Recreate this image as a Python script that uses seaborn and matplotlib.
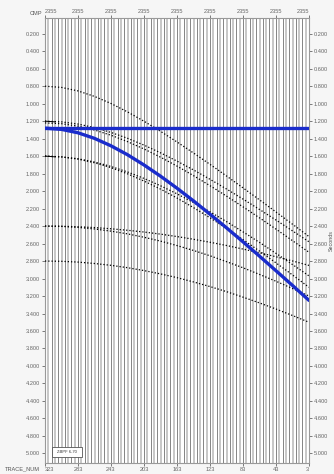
import numpy as np
import pandas as pd
import matplotlib
matplotlib.use("Agg")
import matplotlib.pyplot as plt
from matplotlib.patches import Rectangle
import seaborn as sns

# ---- data ----
trace_ticks = [323, 283, 243, 203, 163, 123, 83, 43, 3]
cmp_labels = ["2355"] * 9
time_ticks = [0.2, 0.4, 0.6, 0.8, 1.0, 1.2, 1.4, 1.6, 1.8, 2.0, 2.2, 2.4, 2.6, 2.8,
              3.0, 3.2, 3.4, 3.6, 3.8, 4.0, 4.2, 4.4, 4.6, 4.8, 5.0]
traces = list(range(323, 2, -4))

# sample trace numbers at which the event times were read
curve_trace = [323, 303, 283, 263, 243, 223, 203, 183, 163, 143, 123, 103, 83, 63, 43, 23, 3]

curve_a = [0.800, 0.814, 0.854, 0.917, 0.998, 1.094, 1.201, 1.316, 1.438,
           1.564, 1.694, 1.827, 1.963, 2.100, 2.239, 2.379, 2.520]
curve_b = [1.200, 1.208, 1.233, 1.274, 1.329, 1.396, 1.474, 1.562, 1.657,
           1.758, 1.865, 1.976, 2.091, 2.210, 2.331, 2.455, 2.580]
curve_c = [1.220, 1.229, 1.257, 1.301, 1.361, 1.434, 1.518, 1.612, 1.714,
           1.823, 1.938, 2.057, 2.180, 2.306, 2.435, 2.567, 2.700]
curve_d = [1.600, 1.608, 1.630, 1.667, 1.718, 1.781, 1.855, 1.939, 2.031,
           2.131, 2.237, 2.349, 2.466, 2.587, 2.712, 2.840, 2.970]
curve_e = [1.600, 1.609, 1.634, 1.676, 1.732, 1.802, 1.885, 1.977, 2.079,
           2.189, 2.305, 2.427, 2.555, 2.686, 2.821, 2.959, 3.100]
curve_f = [2.400, 2.402, 2.408, 2.417, 2.431, 2.448, 2.468, 2.492, 2.520,
           2.551, 2.585, 2.622, 2.663, 2.705, 2.751, 2.799, 2.850]
curve_g = [2.400, 2.404, 2.415, 2.433, 2.458, 2.489, 2.528, 2.572, 2.623,
           2.679, 2.740, 2.807, 2.877, 2.953, 3.031, 3.114, 3.200]
curve_h = [2.800, 2.803, 2.812, 2.828, 2.849, 2.876, 2.909, 2.947, 2.990,
           3.039, 3.092, 3.150, 3.213, 3.279, 3.349, 3.423, 3.500]

blue_flat = [1.28] * 17
blue_curve = [1.28, 1.294, 1.333, 1.397, 1.482, 1.584, 1.701, 1.829, 1.967,
              2.112, 2.264, 2.420, 2.580, 2.744, 2.911, 3.079, 3.25]

sns.set_style("white")
plt.rcParams['font.family'] = ['Liberation Sans', 'DejaVu Sans']

W, H = 334, 474
FS = 4.1
fig = plt.figure(figsize=(W / 100, H / 100), dpi=100)
fig.patch.set_facecolor("#f6f6f6")
ax = fig.add_axes([45 / W, 1 - 463 / H, 264 / W, (463 - 18) / H])
ax.set_facecolor("white")

# traces (flat wiggles)
for i, tr in enumerate(traces):
    if i % 2 == 0:
        ax.axvline(tr, color="#707070", lw=0.6, zorder=1)
    else:
        ax.axvline(tr, color="#bdbdbd", lw=1.2, zorder=1)

# short solid starts where events begin on the near trace
for c in [curve_b, curve_d]:
    df = pd.DataFrame({"trace": curve_trace[:2], "t": c[:2]})
    sns.lineplot(data=df.iloc[:2].assign(trace=[323, 311]), x="trace", y="t", ax=ax,
                 color="black", lw=0.7, sort=False, zorder=3)

dotted = [curve_a, curve_b, curve_c, curve_d, curve_e, curve_f, curve_g, curve_h]
for c in dotted:
    df = pd.DataFrame({"trace": curve_trace, "t": c})
    sns.lineplot(data=df, x="trace", y="t", ax=ax, color="black", lw=0.9,
                 linestyle=(0, (1, 1.6)), sort=False, zorder=3)

for c in [blue_flat, blue_curve]:
    df = pd.DataFrame({"trace": curve_trace, "t": c})
    sns.lineplot(data=df, x="trace", y="t", ax=ax, color="#1a2ccc", lw=2.4,
                 sort=False, zorder=4)

ax.set_xlim(323, 3)
ax.set_ylim(5.11, 0.02)

ax.set_xticks(trace_ticks)
ax.set_xticklabels([str(t) for t in trace_ticks])
ax.set_yticks(time_ticks)
ax.set_yticklabels([f"{t:.3f}" for t in time_ticks])
ax.set_xlabel("")
ax.set_ylabel("")

ax.tick_params(axis="both", labelsize=FS, colors="#666666", length=2.5, width=0.6,
               direction="out", pad=1.0)
ax.tick_params(axis="y", left=True, right=True, labelleft=True, labelright=True)
ax.tick_params(axis="x", bottom=True, top=False, length=2)
xl = ax.get_xticklabels()
xl[0].set_ha("left")
xl[-1].set_ha("right")

top = ax.secondary_xaxis("top")
top.set_xticks(trace_ticks)
top.set_xticklabels(cmp_labels)
top.tick_params(labelsize=FS, colors="#666666", length=2, width=0.6, pad=1.2)
tl = top.get_xticklabels()
tl[0].set_ha("left")
tl[-1].set_ha("right")

for s in ax.spines.values():
    s.set_color("#999999")
    s.set_linewidth(0.8)
for s in top.spines.values():
    s.set_visible(False)

fig.text(36 / W, 1 - 13.5 / H, "CMP", fontsize=FS, color="#555555", ha="center", va="center")
fig.text(22 / W, 1 - 469 / H, "TRACE_NUM", fontsize=FS, color="#555555", ha="center", va="center")
fig.text(331.3 / W, 1 - 240 / H, "Seconds", fontsize=3.9, color="#555555", ha="center",
         va="center", rotation=90)

fig.patches.append(Rectangle((52 / W, 1 - 457 / H), 30 / W, 10 / H, transform=fig.transFigure,
                             fc="white", ec="#555555", lw=0.6, zorder=10))
fig.text(67 / W, 1 - 452 / H, "ZBPF 6-70", fontsize=3.0, color="#333333", ha="center",
         va="center", zorder=11)

fig.savefig("out.png", dpi=100, facecolor=fig.get_facecolor())
